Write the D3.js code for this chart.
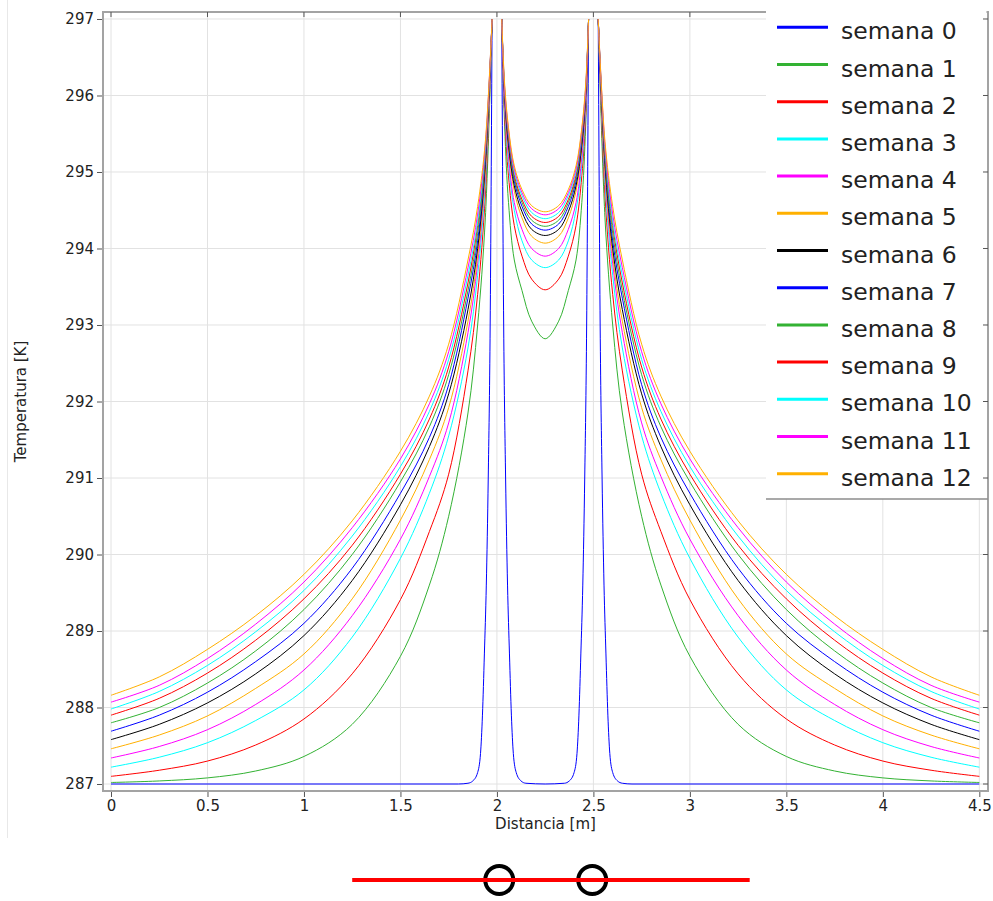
<!DOCTYPE html>
<html>
<head>
<meta charset="utf-8">
<script src="https://cdn.jsdelivr.net/npm/d3@7/dist/d3.min.js"></script>
<style>
  body { margin: 0; background: #fff; }
  svg { display: block; font-family: "DejaVu Sans", sans-serif; }
</style>
</head>
<body>
<div id="chart"></div>
<script>
/**
 * DATA
 * null = inside the pipe wall, no value drawn
 * */
const distance = [0, 0.25, 0.5, 0.75, 1, 1.25, 1.5, 1.65, 1.75, 1.85, 1.9, 1.94, 1.975, 2.0,
  2.025, 2.04, 2.06, 2.09, 2.13, 2.18, 2.25, 2.32, 2.37, 2.41, 2.44, 2.46, 2.475, 2.5,
  2.525, 2.56, 2.6, 2.65, 2.75, 2.85, 3.0, 3.25, 3.5, 3.75, 4.0, 4.25, 4.5];

const distanceWeek0 = [0, 1.8, 1.85, 1.875, 1.9, 1.915, 1.925, 1.935, 1.945, 1.955, 1.965, 1.975, 2.0,
  2.025, 2.035, 2.045, 2.055, 2.065, 2.075, 2.085, 2.1, 2.125, 2.15, 2.25, 2.35, 2.375, 2.4, 2.415,
  2.425, 2.435, 2.445, 2.455, 2.465, 2.475, 2.5,
  2.525, 2.535, 2.545, 2.555, 2.565, 2.575, 2.585, 2.6, 2.625, 2.65, 2.7, 4.5];

const semana0 = [287, 287, 287.01, 287.04, 287.15, 287.4, 287.9, 288.7, 289.6, 291, 293, 297, null,
  297, 293, 291, 289.6, 288.7, 287.9, 287.4, 287.15, 287.04, 287.01, 287, 287.01, 287.04, 287.15, 287.4,
  287.9, 288.7, 289.6, 291, 293, 297, null,
  297, 293, 291, 289.6, 288.7, 287.9, 287.4, 287.15, 287.04, 287.01, 287, 287];

const semana1 = [287.02, 287.04, 287.08, 287.17, 287.36, 287.78, 288.67, 289.6, 290.5, 291.85, 293.0, 294.4, 297, null,
  297, 295.6, 294.6, 293.85, 293.45, 293.05, 292.82, 293.05, 293.45, 293.85, 294.6, 295.6, 297, null,
  297, 294.4, 293.0, 291.85, 290.5, 289.6, 288.67, 287.78, 287.36, 287.17, 287.08, 287.04, 287.02];
const semana2 = [287.10, 287.18, 287.30, 287.51, 287.85, 288.44, 289.41, 290.3, 291.05, 292.4, 293.4, 294.7, 297, null,
  297, 295.75, 294.95, 294.3, 293.9, 293.6, 293.46, 293.6, 293.9, 294.3, 294.95, 295.75, 297, null,
  297, 294.7, 293.4, 292.4, 291.05, 290.3, 289.41, 288.44, 287.85, 287.51, 287.30, 287.18, 287.10];
const semana3 = [287.22, 287.35, 287.54, 287.83, 288.23, 288.92, 289.95, 290.8, 291.55, 292.7, 293.65, 294.85, 297, null,
  297, 295.85, 295.1, 294.5, 294.1, 293.85, 293.75, 293.85, 294.1, 294.5, 295.1, 295.85, 297, null,
  297, 294.85, 293.65, 292.7, 291.55, 290.8, 289.95, 288.92, 288.23, 287.83, 287.54, 287.35, 287.22];
const semana4 = [287.34, 287.49, 287.71, 288.04, 288.49, 289.2, 290.2, 291.02, 291.72, 292.9, 293.8, 294.95, 297, null,
  297, 295.9, 295.2, 294.6, 294.25, 294.0, 293.9, 294.0, 294.25, 294.6, 295.2, 295.9, 297, null,
  297, 294.95, 293.8, 292.9, 291.72, 291.02, 290.2, 289.2, 288.49, 288.04, 287.71, 287.49, 287.34];
const semana5 = [287.46, 287.64, 287.89, 288.25, 288.70, 289.42, 290.45, 291.24, 291.92, 293.05, 293.9, 295.0, 297, null,
  297, 295.95, 295.3, 294.75, 294.4, 294.16, 294.07, 294.16, 294.4, 294.75, 295.3, 295.95, 297, null,
  297, 295.0, 293.9, 293.05, 291.92, 291.24, 290.45, 289.42, 288.70, 288.25, 287.89, 287.64, 287.46];
const semana6 = [287.58, 287.78, 288.06, 288.44, 288.94, 289.66, 290.65, 291.41, 292.1, 293.2, 294.0, 295.1, 297, null,
  297, 296.0, 295.35, 294.82, 294.48, 294.25, 294.17, 294.25, 294.48, 294.82, 295.35, 296.0, 297, null,
  297, 295.1, 294.0, 293.2, 292.1, 291.41, 290.65, 289.66, 288.94, 288.44, 288.06, 287.78, 287.58];
const semana7 = [287.69, 287.90, 288.20, 288.60, 289.10, 289.82, 290.8, 291.53, 292.22, 293.35, 294.1, 295.15, 297, null,
  297, 296.0, 295.4, 294.88, 294.55, 294.32, 294.24, 294.32, 294.55, 294.88, 295.4, 296.0, 297, null,
  297, 295.15, 294.1, 293.35, 292.22, 291.53, 290.8, 289.82, 289.10, 288.60, 288.20, 287.90, 287.69];
const semana8 = [287.80, 288.0, 288.32, 288.74, 289.28, 290.0, 290.95, 291.67, 292.35, 293.45, 294.2, 295.2, 297, null,
  297, 296.05, 295.45, 294.92, 294.6, 294.37, 294.29, 294.37, 294.6, 294.92, 295.45, 296.05, 297, null,
  297, 295.2, 294.2, 293.45, 292.35, 291.67, 290.95, 290.0, 289.28, 288.74, 288.32, 288.0, 287.80];
const semana9 = [287.90, 288.12, 288.45, 288.88, 289.42, 290.12, 291.05, 291.77, 292.45, 293.55, 294.3, 295.25, 297, null,
  297, 296.05, 295.48, 294.96, 294.64, 294.42, 294.34, 294.42, 294.64, 294.96, 295.48, 296.05, 297, null,
  297, 295.25, 294.3, 293.55, 292.45, 291.77, 291.05, 290.12, 289.42, 288.88, 288.45, 288.12, 287.90];
const semana10 = [287.98, 288.21, 288.55, 288.99, 289.53, 290.24, 291.15, 291.87, 292.55, 293.65, 294.35, 295.3, 297, null,
  297, 296.1, 295.52, 295.0, 294.69, 294.47, 294.39, 294.47, 294.69, 295.0, 295.52, 296.1, 297, null,
  297, 295.3, 294.35, 293.65, 292.55, 291.87, 291.15, 290.24, 289.53, 288.99, 288.55, 288.21, 287.98];
const semana11 = [288.07, 288.29, 288.64, 289.09, 289.64, 290.35, 291.25, 291.97, 292.65, 293.75, 294.45, 295.35, 297, null,
  297, 296.1, 295.55, 295.04, 294.73, 294.52, 294.44, 294.52, 294.73, 295.04, 295.55, 296.1, 297, null,
  297, 295.35, 294.45, 293.75, 292.65, 291.97, 291.25, 290.35, 289.64, 289.09, 288.64, 288.29, 288.07];
const semana12 = [288.16, 288.40, 288.76, 289.2, 289.74, 290.44, 291.35, 292.07, 292.75, 293.85, 294.55, 295.4, 297, null,
  297, 296.15, 295.58, 295.08, 294.77, 294.56, 294.48, 294.56, 294.77, 295.08, 295.58, 296.15, 297, null,
  297, 295.4, 294.55, 293.85, 292.75, 292.07, 291.35, 290.44, 289.74, 289.2, 288.76, 288.40, 288.16];

const seriesNames = ["semana 0", "semana 1", "semana 2", "semana 3", "semana 4", "semana 5", "semana 6",
  "semana 7", "semana 8", "semana 9", "semana 10", "semana 11", "semana 12"];
const seriesColors = ["#0000ff", "#33b233", "#ff0000", "#00ffff", "#ff00ff", "#ffb000", "#000000",
  "#0000ff", "#33b233", "#ff0000", "#00ffff", "#ff00ff", "#ffb000"];
const seriesValues = [semana0, semana1, semana2, semana3, semana4, semana5, semana6,
  semana7, semana8, semana9, semana10, semana11, semana12];

const xTicks = [0, 0.5, 1, 1.5, 2, 2.5, 3, 3.5, 4, 4.5];
const yTicks = [287, 288, 289, 290, 291, 292, 293, 294, 295, 296, 297];

// pipe sketch under the chart
const pipeCenters = [2.012, 2.494];
const sketchSpan = [1.25, 3.31];

/**
 * CONSTANTS
 * */
const width = 993,
  height = 901,
  margin = { top: 12, right: 5, bottom: 110, left: 103 };

const svg = d3.select("#chart")
  .append("svg")
  .attr("width", width)
  .attr("height", height);

const xScale = d3.scaleLinear()
  .domain([-0.0415, 4.545])
  .range([margin.left, width - margin.right]);

const yScale = d3.scaleLinear()
  .domain([286.9085, 297.0915])
  .range([height - margin.bottom, margin.top]);

const plotTop = margin.top, plotBottom = height - margin.bottom;
const plotLeft = margin.left, plotRight = width - margin.right;

// faint panel border on the far left
svg.append("line")
  .attr("x1", 7.5).attr("x2", 7.5)
  .attr("y1", 0).attr("y2", 838)
  .attr("stroke", "#e8e8e8");

// GRID
svg.append("g")
  .selectAll("line")
  .data(xTicks)
  .join("line")
  .attr("x1", d => xScale(d)).attr("x2", d => xScale(d))
  .attr("y1", plotTop).attr("y2", plotBottom)
  .attr("stroke", "#e2e2e2");

svg.append("g")
  .selectAll("line")
  .data(yTicks)
  .join("line")
  .attr("x1", plotLeft).attr("x2", plotRight)
  .attr("y1", d => yScale(d)).attr("y2", d => yScale(d))
  .attr("stroke", "#e2e2e2");

// LINES
svg.append("clipPath").attr("id", "plot-clip")
  .append("rect")
  .attr("x", plotLeft).attr("y", plotTop)
  .attr("width", plotRight - plotLeft).attr("height", plotBottom - plotTop);

const smoothLine = d3.line()
  .defined(d => d[1] !== null)
  .x(d => xScale(d[0]))
  .y(d => yScale(d[1]))
  .curve(d3.curveCatmullRom.alpha(0.5));

// week 0 has sharp spikes, keep it monotone so it never dips under 287
const spikeLine = d3.line()
  .defined(d => d[1] !== null)
  .x(d => xScale(d[0]))
  .y(d => yScale(d[1]))
  .curve(d3.curveMonotoneX);

svg.append("g")
  .attr("clip-path", "url(#plot-clip)")
  .selectAll("path")
  .data(seriesValues)
  .join("path")
  .attr("fill", "none")
  .attr("stroke", (d, i) => seriesColors[i])
  .attr("stroke-width", 1)
  .attr("d", (d, i) => {
    const xs = i === 0 ? distanceWeek0 : distance;
    const pts = xs.map((x, j) => [x, d[j]]);
    return i === 0 ? spikeLine(pts) : smoothLine(pts);
  });

// AXES
const xAxis = d3.axisBottom(xScale)
  .tickValues(xTicks)
  .tickFormat(d3.format("~g"))
  .tickSize(6)
  .tickPadding(3);

const yAxis = d3.axisLeft(yScale)
  .tickValues(yTicks)
  .tickFormat(d3.format("d"))
  .tickSize(6)
  .tickPadding(3);

const gx = svg.append("g")
  .attr("transform", `translate(0,${plotBottom})`)
  .call(xAxis);
const gy = svg.append("g")
  .attr("transform", `translate(${plotLeft},0)`)
  .call(yAxis);

[gx, gy].forEach(g => {
  g.select(".domain").remove();
  g.selectAll(".tick line").attr("stroke", "#555");
  g.selectAll(".tick text")
    .attr("fill", "#222")
    .style("font-size", "15px")
    .style("font-family", "DejaVu Sans, sans-serif");
});

// FRAME
svg.append("rect")
  .attr("x", plotLeft).attr("y", plotTop)
  .attr("width", plotRight - plotLeft).attr("height", plotBottom - plotTop)
  .attr("fill", "none")
  .attr("stroke", "#a3a3a3")
  .attr("stroke-width", 2);

// small inward ticks on top
svg.append("g")
  .selectAll("line")
  .data(xTicks)
  .join("line")
  .attr("x1", d => xScale(d)).attr("x2", d => xScale(d))
  .attr("y1", plotTop).attr("y2", plotTop + 5)
  .attr("stroke", "#555");

// LEGEND (its box hides the top edge of the frame)
const legendLeft = 766, legendBottom = 499;
const legend = svg.append("g");
legend.append("rect")
  .attr("x", legendLeft).attr("y", plotTop - 2)
  .attr("width", plotRight - 1.5 - legendLeft).attr("height", legendBottom - plotTop + 2)
  .attr("fill", "#fff");
legend.append("line")
  .attr("x1", legendLeft).attr("x2", plotRight)
  .attr("y1", legendBottom).attr("y2", legendBottom)
  .attr("stroke", "#8c8c8c").attr("stroke-width", 1.5);

const rowY = i => 27.3 + i * 37.2;
const rows = legend.selectAll("g.row")
  .data(seriesNames)
  .join("g")
  .attr("class", "row");
rows.append("line")
  .attr("x1", 777).attr("x2", 828)
  .attr("y1", (d, i) => rowY(i)).attr("y2", (d, i) => rowY(i))
  .attr("stroke", (d, i) => seriesColors[i])
  .attr("stroke-width", 3);
rows.append("text")
  .attr("x", 841)
  .attr("y", (d, i) => rowY(i) + 12)
  .attr("fill", "#222")
  .style("font-size", "23.5px")
  .text(d => d);

// small inward ticks on the right
svg.append("g")
  .selectAll("line")
  .data(yTicks)
  .join("line")
  .attr("x1", plotRight).attr("x2", plotRight - 5)
  .attr("y1", d => yScale(d)).attr("y2", d => yScale(d))
  .attr("stroke", "#555");

// AXIS TITLES
svg.append("text")
  .attr("x", (plotLeft + plotRight) / 2)
  .attr("y", 829)
  .attr("text-anchor", "middle")
  .attr("fill", "#222")
  .style("font-size", "15px")
  .text("Distancia [m]");

svg.append("text")
  .attr("transform", `translate(26,${(plotTop + plotBottom) / 2}) rotate(-90)`)
  .attr("text-anchor", "middle")
  .attr("fill", "#222")
  .style("font-size", "15px")
  .text("Temperatura [K]");

// PIPE SKETCH
const sketchY = 880;
svg.append("g")
  .selectAll("circle")
  .data(pipeCenters)
  .join("circle")
  .attr("cx", d => xScale(d))
  .attr("cy", sketchY)
  .attr("r", 14)
  .attr("fill", "none")
  .attr("stroke", "#000")
  .attr("stroke-width", 4);

svg.append("line")
  .attr("x1", xScale(sketchSpan[0])).attr("x2", xScale(sketchSpan[1]))
  .attr("y1", sketchY).attr("y2", sketchY)
  .attr("stroke", "#ff0000")
  .attr("stroke-width", 4);
</script>
</body>
</html>
